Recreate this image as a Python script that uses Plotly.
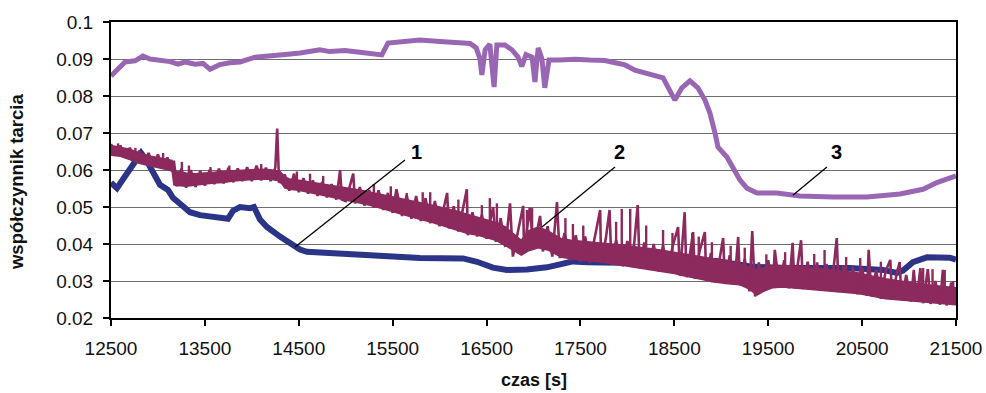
import numpy as np
import plotly.graph_objects as go

# ---- data ----
# series 1 (dark blue)
s1_x = [12500, 12564, 12628, 12702, 12766, 12820, 12873, 12937, 13022, 13107, 13160, 13267, 13341,
        13448, 13629, 13746, 13800, 13874, 13980, 14023, 14087, 14161, 14300, 14438, 14513, 14587,
        14726, 15077, 15439, 15791, 16249, 16398, 16568, 16717, 16930, 17143, 17282, 17420, 17569,
        17920, 18272, 18592, 18954, 19305, 19657, 20370, 20722, 20871, 20935, 21041, 21190, 21435, 21500]
s1_y = [0.0566, 0.0551, 0.0575, 0.0605, 0.0630, 0.0646, 0.0628, 0.0600, 0.0560, 0.0546, 0.0525, 0.0502, 0.0486,
        0.0478, 0.0470, 0.0468, 0.0490, 0.0500, 0.0497, 0.0500, 0.0466, 0.0446, 0.0420, 0.0398, 0.0385, 0.0379,
        0.0377, 0.0375, 0.0366, 0.0362, 0.0361, 0.0352, 0.0336, 0.0330, 0.0331, 0.0337, 0.0345, 0.0353, 0.0351,
        0.0349, 0.0348, 0.0356, 0.0354, 0.0339, 0.0335, 0.0335, 0.0330, 0.0322, 0.0328, 0.0351, 0.0364, 0.0363, 0.0358]

# series 2 (maroon): lower / upper edge of its noise band
s2_x = [12500, 12600, 12700, 12800, 12900, 13000, 13100, 13150, 13170, 13200, 13300, 13400, 13500, 13600,
        13700, 13800, 13900, 14000, 14100, 14200, 14300, 14350, 14400, 14500, 14600, 14700, 14800, 14900,
        15000, 15100, 15200, 15300, 15400, 15500, 15600, 15700, 15800, 15900, 16000, 16100, 16200, 16300,
        16400, 16500, 16600, 16700, 16800, 16870, 16950, 17050, 17150, 17250, 17300, 17400, 17500, 17600,
        17700, 17800, 17900, 18000, 18100, 18200, 18300, 18400, 18500, 18600, 18700, 18800, 18900, 19000,
        19100, 19200, 19300, 19380, 19450, 19550, 19650, 19750, 19850, 19950, 20050, 20150, 20250, 20350,
        20450, 20550, 20650, 20750, 20850, 20950, 21050, 21150, 21250, 21350, 21450, 21500]
s2_lo = [0.0640, 0.0637, 0.0628, 0.0618, 0.0612, 0.0606, 0.0600, 0.0598, 0.0560, 0.0558, 0.0556, 0.0558, 0.0562, 0.0565,
         0.0566, 0.0570, 0.0572, 0.0574, 0.0576, 0.0575, 0.0570, 0.0552, 0.0548, 0.0545, 0.0540, 0.0534, 0.0530, 0.0524,
         0.0520, 0.0514, 0.0508, 0.0502, 0.0496, 0.0488, 0.0480, 0.0472, 0.0466, 0.0460, 0.0452, 0.0446, 0.0438, 0.0428,
         0.0424, 0.0418, 0.0410, 0.0396, 0.0380, 0.0370, 0.0382, 0.0390, 0.0384, 0.0370, 0.0364, 0.0360, 0.0356, 0.0354,
         0.0352, 0.0348, 0.0346, 0.0342, 0.0338, 0.0334, 0.0330, 0.0326, 0.0320, 0.0314, 0.0310, 0.0304, 0.0298, 0.0294,
         0.0292, 0.0290, 0.0278, 0.0262, 0.0272, 0.0282, 0.0284, 0.0282, 0.0280, 0.0278, 0.0276, 0.0274, 0.0272, 0.0270,
         0.0266, 0.0262, 0.0256, 0.0252, 0.0250, 0.0248, 0.0246, 0.0244, 0.0241, 0.0238, 0.0236, 0.0236]
s2_hi = [0.0666, 0.0662, 0.0656, 0.0646, 0.0638, 0.0634, 0.0628, 0.0626, 0.0598, 0.0596, 0.0592, 0.0590, 0.0592, 0.0595,
         0.0596, 0.0598, 0.0600, 0.0602, 0.0602, 0.0601, 0.0596, 0.0582, 0.0576, 0.0572, 0.0568, 0.0564, 0.0560, 0.0556,
         0.0554, 0.0548, 0.0543, 0.0538, 0.0533, 0.0528, 0.0522, 0.0516, 0.0512, 0.0506, 0.0500, 0.0495, 0.0488, 0.0480,
         0.0472, 0.0466, 0.0458, 0.0446, 0.0426, 0.0410, 0.0436, 0.0446, 0.0436, 0.0421, 0.0414, 0.0410, 0.0408, 0.0406,
         0.0404, 0.0400, 0.0398, 0.0396, 0.0392, 0.0390, 0.0386, 0.0382, 0.0378, 0.0374, 0.0370, 0.0366, 0.0362, 0.0358,
         0.0352, 0.0346, 0.0338, 0.0330, 0.0336, 0.0342, 0.0342, 0.0341, 0.0340, 0.0336, 0.0333, 0.0330, 0.0328, 0.0326,
         0.0322, 0.0316, 0.0310, 0.0306, 0.0302, 0.0298, 0.0294, 0.0292, 0.0288, 0.0286, 0.0283, 0.0282]

# series 2 (maroon): the noisy trace itself, sampled about every 50 s
s2n_x = [12500, 12550, 12600, 12650, 12700, 12750, 12800, 12850, 12900, 12950, 13000, 13050, 13100, 13150,
         13170, 13200, 13250, 13300, 13350, 13400, 13450, 13500, 13550, 13600, 13650, 13700, 13750, 13800,
         13850, 13900, 13950, 14000, 14050, 14100, 14150, 14200, 14250, 14270, 14290, 14320, 14350, 14400,
         14450, 14500, 14550, 14600, 14650, 14700, 14750, 14800, 14850, 14900, 14940, 14960, 15000, 15050,
         15080, 15100, 15150, 15200, 15250, 15300, 15350, 15400, 15450, 15500, 15540, 15600, 15650, 15700,
         15750, 15800, 15850, 15900, 15950, 16000, 16050, 16080, 16100, 16150, 16200, 16250, 16290, 16300,
         16350, 16400, 16450, 16500, 16570, 16600, 16650, 16700, 16750, 16780, 16830, 16890, 16900, 16960,
         17000, 17050, 17070, 17100, 17150, 17200, 17250, 17280, 17330, 17400, 17450, 17500, 17550, 17600,
         17650, 17710, 17720, 17770, 17810, 17830, 17880, 17950, 18000, 18050, 18110, 18130, 18180, 18230,
         18280, 18330, 18380, 18430, 18480, 18540, 18560, 18610, 18630, 18700, 18720, 18770, 18825, 18840,
         18890, 18940, 19020, 19040, 19090, 19140, 19180, 19200, 19250, 19300, 19330, 19360, 19400, 19450,
         19500, 19550, 19570, 19620, 19670, 19720, 19760, 19780, 19850, 19870, 19920, 19970, 20020, 20070,
         20120, 20170, 20230, 20250, 20300, 20350, 20400, 20450, 20500, 20550, 20570, 20600, 20650, 20700,
         20750, 20800, 20820, 20870, 20900, 20920, 20970, 21020, 21050, 21080, 21120, 21150, 21200, 21230,
         21280, 21330, 21360, 21400, 21450, 21500]
s2n_y = [0.0670, 0.0640, 0.0666, 0.0634, 0.0660, 0.0626, 0.0652, 0.0616, 0.0646, 0.0610, 0.0642, 0.0604, 0.0634, 0.0596,
         0.0625, 0.0556, 0.0604, 0.0552, 0.0600, 0.0554, 0.0598, 0.0558, 0.0600, 0.0562, 0.0604, 0.0564, 0.0606, 0.0567,
         0.0604, 0.0570, 0.0608, 0.0570, 0.0612, 0.0572, 0.0606, 0.0570, 0.0606, 0.0712, 0.0568, 0.0566, 0.0588, 0.0544,
         0.0590, 0.0540, 0.0578, 0.0536, 0.0572, 0.0530, 0.0568, 0.0526, 0.0562, 0.0520, 0.0600, 0.0520, 0.0516, 0.0560,
         0.0590, 0.0510, 0.0554, 0.0504, 0.0546, 0.0498, 0.0545, 0.0492, 0.0538, 0.0484, 0.0548, 0.0476, 0.0532, 0.0468,
         0.0530, 0.0462, 0.0524, 0.0456, 0.0516, 0.0448, 0.0510, 0.0538, 0.0442, 0.0502, 0.0434, 0.0494, 0.0548, 0.0424,
         0.0486, 0.0420, 0.0480, 0.0414, 0.0500, 0.0406, 0.0470, 0.0392, 0.0510, 0.0366, 0.0430, 0.0503, 0.0378, 0.0498,
         0.0386, 0.0458, 0.0476, 0.0380, 0.0448, 0.0366, 0.0513, 0.0362, 0.0430, 0.0356, 0.0424, 0.0352, 0.0420, 0.0350,
         0.0418, 0.0492, 0.0348, 0.0414, 0.0492, 0.0344, 0.0410, 0.0340, 0.0408, 0.0338, 0.0505, 0.0334, 0.0404, 0.0330,
         0.0400, 0.0326, 0.0396, 0.0322, 0.0392, 0.0446, 0.0314, 0.0486, 0.0310, 0.0432, 0.0306, 0.0382, 0.0432, 0.0300,
         0.0376, 0.0296, 0.0416, 0.0292, 0.0370, 0.0290, 0.0419, 0.0288, 0.0360, 0.0272, 0.0435, 0.0258, 0.0350, 0.0272,
         0.0356, 0.0282, 0.0384, 0.0282, 0.0356, 0.0280, 0.0403, 0.0280, 0.0410, 0.0278, 0.0352, 0.0276, 0.0350, 0.0274,
         0.0346, 0.0272, 0.0416, 0.0270, 0.0342, 0.0268, 0.0338, 0.0264, 0.0336, 0.0260, 0.0384, 0.0258, 0.0330, 0.0252,
         0.0326, 0.0357, 0.0250, 0.0322, 0.0351, 0.0248, 0.0316, 0.0244, 0.0330, 0.0244, 0.0335, 0.0240, 0.0332, 0.0238,
         0.0300, 0.0236, 0.0330, 0.0234, 0.0296, 0.0240]

# series 2 (maroon): extra tall spikes
s2_spike_x = [12575, 12760, 13055, 13255, 13330, 13560, 13760, 14100, 14480, 14620, 14760,
              15300, 15480, 15650, 15820, 15900, 16200, 16450, 16535, 16610,
              16930, 16985, 17340, 17420, 17530, 17880, 17940, 18030, 18200,
              18380, 18480, 18690, 18760, 18900, 19100, 19250, 19480,
              19680, 19990, 20100, 20330, 20480, 20700, 21150, 21250, 21380, 21470]
s2_spike_y = [0.0672, 0.0660, 0.0646, 0.0622, 0.0612, 0.0608, 0.0612, 0.0616, 0.0596, 0.0590, 0.0584,
              0.0562, 0.0556, 0.0538, 0.0540, 0.0540, 0.0520, 0.0505, 0.0524, 0.0510,
              0.0492, 0.0497, 0.0470, 0.0454, 0.0450, 0.0460, 0.0495, 0.0495, 0.0450,
              0.0438, 0.0430, 0.0430, 0.0420, 0.0405, 0.0395, 0.0390, 0.0372,
              0.0378, 0.0373, 0.0384, 0.0365, 0.0362, 0.0352, 0.0335, 0.0332, 0.0330, 0.0300]

# series 3 (light purple)
s3_x = [12500, 12575, 12650, 12755, 12840, 12915, 13020, 13130, 13215, 13290, 13395, 13480, 13555, 13660,
        13765, 13875, 14035, 14195, 14355, 14515, 14620, 14725, 14830, 14990, 15150, 15310, 15385, 15450,
        15580, 15790, 16005, 16165, 16325, 16390, 16430, 16450, 16485, 16535, 16580, 16610, 16695, 16770,
        16835, 16875, 16920, 16985, 17015, 17050, 17090, 17120, 17165, 17280, 17440, 17600, 17760, 17870,
        17975, 18080, 18240, 18380, 18506, 18580, 18666, 18751, 18826, 18879, 18933, 18965, 19060, 19124,
        19199, 19273, 19380, 19593, 19838, 20189, 20551, 20903, 21148, 21297, 21500]
s3_y = [0.0854, 0.0875, 0.0892, 0.0895, 0.0908, 0.0900, 0.0898, 0.0893, 0.0886, 0.0892, 0.0886, 0.0888, 0.0872, 0.0885,
        0.0890, 0.0892, 0.0905, 0.0910, 0.0912, 0.0916, 0.0922, 0.0925, 0.0920, 0.0923, 0.0918, 0.0914, 0.0911, 0.0943,
        0.0947, 0.0951, 0.0947, 0.0945, 0.0942, 0.0930, 0.0900, 0.0857, 0.0925, 0.0940, 0.0824, 0.0938, 0.0938, 0.0925,
        0.0905, 0.0880, 0.0912, 0.0905, 0.0838, 0.0930, 0.0900, 0.0822, 0.0897, 0.0897, 0.0899, 0.0897, 0.0896, 0.0890,
        0.0884, 0.0870, 0.0859, 0.0849, 0.0789, 0.0822, 0.0841, 0.0822, 0.0789, 0.0754, 0.0700, 0.0662, 0.0635, 0.0608,
        0.0573, 0.0551, 0.0538, 0.0538, 0.0530, 0.0527, 0.0527, 0.0535, 0.0548, 0.0566, 0.0584]

x_ticks = [12500, 13500, 14500, 15500, 16500, 17500, 18500, 19500, 20500, 21500]
x_tick_text = ["12500", "13500", "14500", "15500", "16500", "17500", "18500", "19500", "20500", "21500"]
y_ticks = [0.02, 0.03, 0.04, 0.05, 0.06, 0.07, 0.08, 0.09, 0.1]
y_tick_text = ["0.02", "0.03", "0.04", "0.05", "0.06", "0.07", "0.08", "0.09", "0.1"]

# callouts: label, point on curve, end of leader line, label position
callout_labels = ["1", "2", "3"]
callout_from = [(14460, 0.0392), (17090, 0.0446), (19763, 0.0532)]
callout_to = [(15631, 0.0627), (17868, 0.0608), (20125, 0.0608)]
callout_text_pos = [(15759, 0.0650), (17920, 0.0650), (20232, 0.0650)]

FONT = "Liberation Sans, Arial, sans-serif"
C1, C2, C3 = "#2B3486", "#8C2A5E", "#9966B4"

# spikes drawn as vertical strokes rising from the band's upper edge
base = np.interp(s2_spike_x, s2_x, s2_hi)
spx, spy = [], []
for xv, b, t in zip(s2_spike_x, base, s2_spike_y):
    spx += [xv, xv, None]
    spy += [b, t, None]

fig = go.Figure()
fig.add_trace(go.Scatter(x=s1_x, y=s1_y, mode="lines",
                         line=dict(color=C1, width=6), showlegend=False))
fig.add_trace(go.Scatter(x=s3_x, y=s3_y, mode="lines",
                         line=dict(color=C3, width=5), showlegend=False))
fig.add_trace(go.Scatter(x=s2_x, y=s2_lo, mode="lines",
                         line=dict(color=C2, width=1.5), showlegend=False))
fig.add_trace(go.Scatter(x=s2_x, y=s2_hi, mode="lines", fill="tonexty", fillcolor=C2,
                         line=dict(color=C2, width=1.5), showlegend=False))
fig.add_trace(go.Scatter(x=s2n_x, y=s2n_y, mode="lines",
                         line=dict(color=C2, width=2.6), showlegend=False))
fig.add_trace(go.Scatter(x=spx, y=spy, mode="lines",
                         line=dict(color=C2, width=2.4), showlegend=False))

for lab, p0, p1, pt in zip(callout_labels, callout_from, callout_to, callout_text_pos):
    fig.add_shape(type="line", x0=p0[0], y0=p0[1], x1=p1[0], y1=p1[1],
                  xref="x", yref="y", line=dict(color="black", width=1.3))
    fig.add_annotation(x=pt[0], y=pt[1], text="<b>%s</b>" % lab, showarrow=False,
                       font=dict(family=FONT, size=20, color="black"))

fig.add_annotation(x=0.5, y=-0.209, xref="paper", yref="paper", text="<b>czas [s]</b>",
                   xanchor="center", yanchor="middle",
                   showarrow=False, font=dict(family=FONT, size=18, color="#111"))
fig.add_annotation(x=-0.111, y=0.46, xref="paper", yref="paper", text="<b>współczynnik tarcia</b>",
                   xanchor="center", yanchor="middle",
                   textangle=-90, showarrow=False, font=dict(family=FONT, size=18.5, color="#111"))

fig.update_layout(
    width=986, height=393,
    margin=dict(l=111, r=30, t=22, b=75),
    paper_bgcolor="white", plot_bgcolor="white",
    font=dict(family=FONT, size=19, color="#111"),
)
fig.update_xaxes(range=[12500, 21500], tickvals=x_ticks, ticktext=x_tick_text, ticks="outside", ticklen=6,
                 tickwidth=1.5, tickcolor="black", showline=True, linecolor="black", linewidth=2, mirror=True,
                 showgrid=False, zeroline=False, ticklabelstandoff=6, tickfont=dict(size=19), automargin=False)
fig.update_yaxes(range=[0.02, 0.1], tickvals=y_ticks, ticktext=y_tick_text, ticks="outside", ticklen=6,
                 tickwidth=1.5, tickcolor="black", showline=True, linecolor="black", linewidth=2,
                 mirror=True, showgrid=True, gridcolor="#6e6e6e", gridwidth=1, zeroline=False,
                 ticklabelstandoff=6, tickfont=dict(size=19), automargin=False)

fig.write_html("out.html")
